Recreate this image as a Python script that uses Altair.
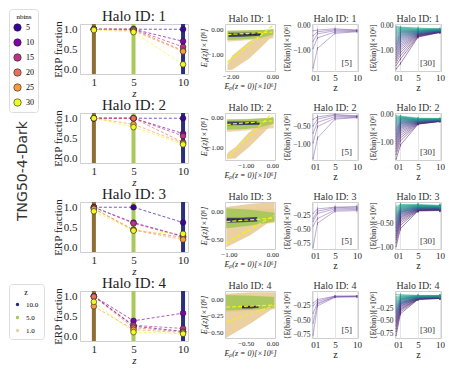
import altair as alt
import pandas as pd

FONT = "Liberation Serif"
SIM_NAME = "TNG50-4-Dark"

HALO_IDS = [1, 2, 3, 4]
Z_SNAPS = [1, 5, 10]
Z_ALL = [0, 1, 5, 10]
NBINS = [5, 10, 15, 20, 25, 30]
NBINS_COLORS = ["#3b049a", "#7e03a8", "#bb3488", "#e8705c", "#f99a3e", "#f0f921"]
Z_LEGEND_LABELS = ["10.0", "5.0", "1.0"]
Z_LEGEND_COLORS = ["#2b2d6e", "#a8c95a", "#ecd29b"]
Z_BAR_COLORS = ["#8f6d33", "#a9c95d", "#2b2f7e"]

# ERP fraction: rows = nbins 5..30, columns = z 1, 5, 10
erp_h1 = [[1.0, 1.0, 1.0], [1.0, 1.0, 0.70], [1.0, 1.0, 0.56],
          [1.0, 0.99, 0.47], [1.0, 0.96, 0.45], [0.98, 0.93, 0.13]]
erp_h2 = [[1.0, 1.0, 1.0], [1.0, 1.0, 0.62], [1.0, 1.0, 0.56],
          [1.0, 1.0, 0.40], [1.0, 0.85, 0.38], [1.0, 0.78, 0.35]]
erp_h3 = [[1.0, 1.0, 0.62], [1.0, 0.62, 0.28], [1.0, 0.60, 0.27],
          [0.97, 0.44, 0.25], [0.96, 0.43, 0.20], [0.90, 0.42, 0.34]]
erp_h4 = [[1.0, 0.26, 0.13], [1.0, 0.39, 0.58], [1.0, 0.28, 0.20],
          [0.99, 0.22, 0.12], [0.75, 0.17, 0.10], [0.86, 0.11, 0.07]]
ERP = [erp_h1, erp_h2, erp_h3, erp_h4]

# Ep(z) vs Ep(z=0) clouds, per halo
sc_xdom = [[-2.27, 0.13], [-1.77, 0.10], [-1.09, 0.06], [-0.89, 0.05]]
sc_ydom = [[-1.69, 0.23], [-1.44, 0.17], [-0.67, 0.17], [-0.58, 0.12]]
sc_xticks = [[-2.0, 0.0], [-1.0, 0.0], [-1.0, 0.0], [-0.5, 0.0]]
sc_yticks = [[0.0, -1.0], [0.0, -1.0], [0.0, -0.5], [0.0, -0.25, -0.5]]

tan_diag_x = [[-2.15, -1.92, -1.12, -0.48, 0.05], [-1.70, -1.62, -1.38, -0.88, -0.38, 0.02],
              [-1.06, -0.5, 0.05], [-0.87, -0.4, 0.05]]
tan_diag_lo = [[-1.66, -1.64, -1.19, -0.68, -0.22], [-1.42, -1.40, -1.39, -1.0, -0.56, -0.17],
               [-0.64, -0.42, -0.12], [-0.58, -0.36, -0.12]]
tan_diag_hi = [[-1.40, -1.06, -0.49, -0.17, 0.05], [-1.25, -1.15, -1.0, -0.5, -0.17, 0.06],
               [0.08, 0.14, 0.17], [0.08, 0.10, 0.10]]
tan_flat_x = [[-2.15, 0.05], [-1.70, 0.05], [-1.06, 0.05], [-0.87, 0.05]]
tan_flat_lo = [[-0.50, -0.35], [-0.48, -0.35], [-0.30, -0.20], [-0.20, -0.15]]
tan_flat_hi = [[-0.05, 0.0], [-0.05, 0.0], [0.05, 0.05], [0.05, 0.05]]
green_x = [[-2.15, -1.5, -1.0, -0.5, 0.05], [-1.70, -1.0, -0.5, 0.05],
           [-1.06, -0.5, 0.05], [-0.87, -0.4, 0.03]]
green_lo = [[-0.42, -0.40, -0.37, -0.32, -0.20], [-0.40, -0.38, -0.33, -0.20],
            [-0.30, -0.25, -0.18], [-0.17, -0.16, -0.13]]
green_hi = [[-0.05, -0.04, -0.03, -0.01, 0.02], [-0.05, -0.04, -0.02, 0.02],
            [0.06, 0.03, -0.02], [0.06, 0.05, 0.03]]
navy_x = [[-2.1, -1.5, -1.0, -0.55], [-1.68, -1.0, -0.48], [-1.05, -0.7, -0.35], [-0.57, -0.4, -0.26]]
navy_lo = [[-0.30, -0.29, -0.27, -0.25], [-0.25, -0.24, -0.23], [-0.20, -0.19, -0.18], [-0.14, -0.14, -0.13]]
navy_hi = [[-0.13, -0.13, -0.12, -0.12], [-0.12, -0.12, -0.11], [-0.11, -0.11, -0.10], [-0.10, -0.10, -0.10]]
fit_diag_x = [[-2.16, 0.0], [-1.62, 0.0], [-1.06, 0.04], [-0.85, 0.03]]
fit_diag_y = [[-1.32, 0.15], [-1.33, 0.17], [-0.56, -0.07], [-0.34, -0.10]]
fit_flat_x = [[-2.15, 0.0], [-1.70, 0.0], [-1.06, 0.0], [-0.87, 0.05]]
fit_flat_y = [[-0.20, -0.10], [-0.22, -0.10], [-0.18, -0.12], [-0.12, -0.09]]
fit_navy_x = [[-2.1, -0.55], [-1.68, -0.48], [-1.05, -0.35], [-0.57, -0.26]]
fit_navy_y = [[-0.22, -0.19], [-0.19, -0.17], [-0.15, -0.14], [-0.12, -0.115]]

# <E(bin)> for nbins = 5: rows = bins, columns = z 0, 1, 5, 10
e5_h1 = [[-1.68, -0.90, -0.30, -0.24], [-0.90, -0.48, -0.25, -0.22], [-0.62, -0.32, -0.20, -0.20],
         [-0.40, -0.24, -0.16, -0.18], [-0.20, -0.17, -0.12, -0.17]]
e5_h2 = [[-1.39, -0.82, -0.29, -0.25], [-0.95, -0.50, -0.26, -0.24], [-0.68, -0.38, -0.22, -0.22],
         [-0.48, -0.29, -0.18, -0.21], [-0.30, -0.23, -0.16, -0.20]]
e5_h3 = [[-0.81, -0.39, -0.18, -0.17], [-0.44, -0.31, -0.16, -0.15], [-0.36, -0.22, -0.14, -0.13],
         [-0.31, -0.18, -0.12, -0.11], [-0.22, -0.14, -0.11, -0.10]]
e5_h4 = [[-0.76, -0.25, -0.10, -0.09], [-0.55, -0.22, -0.09, -0.09], [-0.38, -0.20, -0.09, -0.08],
         [-0.25, -0.17, -0.08, -0.08], [-0.20, -0.14, -0.08, -0.08]]
E5 = [e5_h1, e5_h2, e5_h3, e5_h4]
err5 = [[0.02, 0.05, 0.05, 0.04], [0.02, 0.05, 0.04, 0.03], [0.01, 0.03, 0.03, 0.03], [0.01, 0.03, 0.02, 0.02]]
e5_ydom = [[-1.8, 0.07], [-1.43, -0.12], [-0.84, -0.02], [-0.81, 0.01]]
e5_yticks = [[0.0, -1.0], [-0.5, -1.0], [-0.25, -0.5, -0.75], [-0.25, -0.5, -0.75]]

# <E(bin)> for nbins = 30: lists for z = 0, 1, 5, 10 (bins from most to least bound)
e30_h1 = [
    [-1.72, -1.58, -1.47, -1.38, -1.30, -1.22, -1.14, -1.07, -1.00, -0.94, -0.88, -0.82, -0.76, -0.71, -0.66,
     -0.61, -0.56, -0.51, -0.47, -0.42, -0.38, -0.34, -0.30, -0.26, -0.22, -0.18, -0.14, -0.10, -0.06, -0.02],
    [-1.50, -1.32, -1.18, -1.06, -0.96, -0.87, -0.79, -0.72, -0.65, -0.59, -0.54, -0.49, -0.45, -0.41, -0.38,
     -0.35, -0.32, -0.29, -0.27, -0.25, -0.23, -0.21, -0.19, -0.17, -0.15, -0.13, -0.11, -0.09, -0.07, -0.05],
    [-0.45, -0.43, -0.41, -0.40, -0.38, -0.37, -0.36, -0.35, -0.34, -0.33, -0.32, -0.31, -0.30, -0.29, -0.28,
     -0.27, -0.26, -0.25, -0.24, -0.23, -0.22, -0.21, -0.20, -0.19, -0.18, -0.16, -0.15, -0.13, -0.11, -0.09],
    [-0.27, -0.26, -0.26, -0.25, -0.25, -0.24, -0.24, -0.23, -0.23, -0.22, -0.22, -0.21, -0.21, -0.20, -0.20,
     -0.19, -0.19, -0.18, -0.18, -0.17, -0.17, -0.16, -0.16, -0.15, -0.15, -0.14, -0.14, -0.13, -0.13, -0.12],
]
e30_h2 = [
    [-1.62, -1.45, -1.33, -1.23, -1.14, -1.06, -0.98, -0.91, -0.85, -0.79, -0.73, -0.68, -0.63, -0.58, -0.54,
     -0.50, -0.46, -0.42, -0.38, -0.35, -0.31, -0.28, -0.25, -0.22, -0.19, -0.16, -0.13, -0.10, -0.07, -0.03],
    [-1.10, -0.95, -0.84, -0.75, -0.67, -0.60, -0.54, -0.49, -0.45, -0.41, -0.38, -0.35, -0.32, -0.30, -0.28,
     -0.26, -0.24, -0.22, -0.20, -0.18, -0.17, -0.15, -0.14, -0.12, -0.11, -0.10, -0.08, -0.07, -0.06, -0.04],
    [-0.34, -0.33, -0.32, -0.31, -0.30, -0.30, -0.29, -0.28, -0.28, -0.27, -0.26, -0.26, -0.25, -0.24, -0.24,
     -0.23, -0.22, -0.22, -0.21, -0.20, -0.20, -0.19, -0.18, -0.18, -0.17, -0.16, -0.15, -0.14, -0.13, -0.12],
    [-0.24, -0.24, -0.23, -0.23, -0.22, -0.22, -0.22, -0.21, -0.21, -0.21, -0.20, -0.20, -0.20, -0.19, -0.19,
     -0.19, -0.18, -0.18, -0.18, -0.17, -0.17, -0.17, -0.16, -0.16, -0.16, -0.15, -0.15, -0.14, -0.14, -0.13],
]
e30_h3 = [
    [-0.98, -0.90, -0.84, -0.79, -0.75, -0.71, -0.67, -0.64, -0.61, -0.58, -0.55, -0.52, -0.50, -0.47, -0.45,
     -0.42, -0.40, -0.38, -0.36, -0.34, -0.32, -0.30, -0.28, -0.26, -0.24, -0.22, -0.20, -0.18, -0.16, -0.13],
    [-0.60, -0.53, -0.48, -0.44, -0.41, -0.38, -0.36, -0.34, -0.32, -0.30, -0.29, -0.27, -0.26, -0.25, -0.24,
     -0.23, -0.22, -0.21, -0.20, -0.19, -0.18, -0.17, -0.16, -0.15, -0.14, -0.13, -0.12, -0.11, -0.10, -0.09],
    [-0.23, -0.22, -0.22, -0.21, -0.21, -0.20, -0.20, -0.19, -0.19, -0.19, -0.18, -0.18, -0.17, -0.17, -0.17,
     -0.16, -0.16, -0.15, -0.15, -0.15, -0.14, -0.14, -0.13, -0.13, -0.12, -0.12, -0.11, -0.11, -0.10, -0.09],
    [-0.22, -0.21, -0.21, -0.20, -0.20, -0.20, -0.19, -0.19, -0.19, -0.18, -0.18, -0.18, -0.17, -0.17, -0.17,
     -0.16, -0.16, -0.16, -0.15, -0.15, -0.15, -0.14, -0.14, -0.14, -0.13, -0.13, -0.13, -0.12, -0.12, -0.11],
]
e30_h4 = [
    [-0.80, -0.72, -0.66, -0.61, -0.57, -0.53, -0.50, -0.47, -0.44, -0.41, -0.39, -0.36, -0.34, -0.32, -0.30,
     -0.28, -0.26, -0.24, -0.22, -0.20, -0.18, -0.16, -0.14, -0.12, -0.10, -0.08, -0.06, -0.04, -0.01, 0.03],
    [-0.36, -0.32, -0.29, -0.27, -0.25, -0.23, -0.21, -0.20, -0.18, -0.17, -0.16, -0.15, -0.14, -0.13, -0.12,
     -0.11, -0.10, -0.09, -0.08, -0.07, -0.06, -0.06, -0.05, -0.04, -0.03, -0.02, -0.01, 0.0, 0.01, 0.03],
    [-0.07, -0.07, -0.06, -0.06, -0.06, -0.05, -0.05, -0.05, -0.05, -0.04, -0.04, -0.04, -0.04, -0.03, -0.03,
     -0.03, -0.03, -0.02, -0.02, -0.02, -0.02, -0.01, -0.01, -0.01, -0.01, 0.0, 0.0, 0.0, 0.01, 0.01],
    [-0.05, -0.05, -0.05, -0.04, -0.04, -0.04, -0.04, -0.04, -0.03, -0.03, -0.03, -0.03, -0.03, -0.02, -0.02,
     -0.02, -0.02, -0.02, -0.01, -0.01, -0.01, -0.01, -0.01, 0.0, 0.0, 0.0, 0.0, 0.0, 0.01, 0.01],
]
E30 = [e30_h1, e30_h2, e30_h3, e30_h4]
err30 = [[0.02, 0.05, 0.06, 0.05], [0.02, 0.05, 0.05, 0.04], [0.01, 0.04, 0.04, 0.04], [0.01, 0.03, 0.03, 0.03]]
e30_ydom = [[-1.8, 0.07], [-1.65, 0.07], [-1.03, -0.04], [-0.85, 0.10]]
e30_yticks = [[0.0, -1.0], [0.0, -1.0], [-0.5, -1.0], [-0.25, -0.5, -0.75]]

W1, H1 = 108, 50
W2, W3, W4, H = 50, 46, 46, 47


def title_text(hid, w, size, dy, color):
    return alt.Chart(pd.DataFrame({"t": [f"Halo ID: {hid}"]})).mark_text(
        font=FONT, fontSize=size, color=color, align="center", baseline="alphabetic").encode(
        text="t:N", x=alt.value(w / 2), y=alt.value(dy))


def erp_panel(i):
    hid = HALO_IDS[i]
    rows = []
    for nb, vals in zip(NBINS, ERP[i]):
        for z, v in zip(Z_SNAPS, vals):
            rows.append({"nbins": nb, "z": z, "erp": v})
    df = pd.DataFrame(rows)
    x = alt.X("z:Q", scale=alt.Scale(domain=[-0.4, 10.5], nice=False, zero=False),
              axis=alt.Axis(values=Z_SNAPS, title="z", titleFontStyle="italic", titleFontSize=11,
                            labelFontSize=11, titleY=19, titleBaseline="middle", labelPadding=2,
                            labelFlush=False, grid=False))
    y = alt.Y("erp:Q", scale=alt.Scale(domain=[-0.11, 1.13], nice=False, zero=False),
              axis=alt.Axis(values=[0.0, 0.5, 1.0], format=".1f", title="ERP fraction", titleFontSize=11,
                            labelFontSize=11, titleX=-22, titleBaseline="middle", labelPadding=3, grid=False))
    bars = alt.Chart(pd.DataFrame({"z": Z_SNAPS})).mark_rule(strokeWidth=4).encode(
        x=x, color=alt.Color("z:O", scale=alt.Scale(domain=Z_SNAPS, range=Z_BAR_COLORS), legend=None))
    nb_scale = alt.Scale(domain=NBINS, range=NBINS_COLORS)
    lines = alt.Chart(df).mark_line(strokeDash=[3, 2], strokeWidth=0.8, opacity=0.85).encode(
        x=x, y=y, color=alt.Color("nbins:O", scale=nb_scale, legend=None))
    if i == 0:
        leg = alt.Legend(title="nbins", orient="none", legendX=-71, legendY=-15, titleFontSize=7,
                         titleFont=FONT, titleFontWeight="normal", labelFont=FONT, labelFontSize=8,
                         symbolSize=55, symbolStrokeColor="#222222", symbolStrokeWidth=0.6,
                         strokeColor="#dddddd", padding=4, cornerRadius=3, fillColor="white",
                         rowPadding=4, labelOffset=4, titleAnchor="middle", titlePadding=3)
    else:
        leg = None
    pts = alt.Chart(df).mark_circle(size=32, opacity=1, stroke="#222222", strokeWidth=0.6).encode(
        x=x, y=y, color=alt.Color("nbins:O", scale=nb_scale, legend=leg))
    layers = [bars, lines, pts, title_text(hid, W1, 15, -3, "#222222")]
    if i == 1:
        layers.append(alt.Chart(pd.DataFrame({"t": [SIM_NAME]})).mark_text(
            angle=270, font="DejaVu Sans", fontSize=14, color="#333333", align="center",
            baseline="middle").encode(text="t:N", x=alt.value(-57), y=alt.value(58)))
    if i == 3:
        zleg = alt.Legend(title="z", orient="none", legendX=-71, legendY=-7, titleFontSize=8,
                          titleFont=FONT, titleFontWeight="normal", labelFont=FONT, labelFontSize=7,
                          symbolSize=12, strokeColor="#dddddd", padding=5, cornerRadius=3,
                          fillColor="white", rowPadding=5, labelOffset=5, titleAnchor="middle",
                          titlePadding=4)
        layers.append(alt.Chart(pd.DataFrame({"zl": Z_LEGEND_LABELS})).mark_circle(opacity=0).encode(
            color=alt.Color("zl:N", scale=alt.Scale(domain=Z_LEGEND_LABELS, range=Z_LEGEND_COLORS),
                            legend=zleg)))
    return alt.layer(*layers).resolve_scale(color="independent").properties(width=W1, height=H1)


def scatter_panel(i):
    xsc = alt.Scale(domain=sc_xdom[i], nice=False, zero=False)
    ysc = alt.Scale(domain=sc_ydom[i], nice=False, zero=False)
    xax = alt.Axis(values=sc_xticks[i], format=".2f", title="Eₚ(z = 0)[×10⁶]", titleFontSize=8,
                   labelFontSize=7, titleY=15.5, titleBaseline="middle", labelPadding=1.5,
                   labelFlush=False, grid=False, titleFontStyle="italic")
    yax = alt.Axis(values=sc_yticks[i], format=".2f", title="Eₚ(z)[×10⁶]", titleFontSize=8,
                   labelFontSize=7, titleX=-21, titleBaseline="middle", labelPadding=2, grid=False,
                   titleFontStyle="italic")

    def band(xs, lo, hi, color, op):
        d = pd.DataFrame({"x": xs, "lo": lo, "hi": hi})
        return alt.Chart(d).mark_area(color=color, opacity=op, clip=True).encode(
            x=alt.X("x:Q", scale=xsc, axis=xax), y=alt.Y("lo:Q", scale=ysc, axis=yax), y2="hi:Q")

    def fit(xs, ys, color, width, dash):
        d = pd.DataFrame({"x": xs, "y": ys})
        return alt.Chart(d).mark_line(color=color, strokeWidth=width, strokeDash=dash, clip=True).encode(
            x=alt.X("x:Q", scale=xsc, axis=xax), y=alt.Y("y:Q", scale=ysc, axis=yax))

    layers = [
        band(tan_flat_x[i], tan_flat_lo[i], tan_flat_hi[i], "#e8c990", 0.75),
        band(tan_diag_x[i], tan_diag_lo[i], tan_diag_hi[i], "#e8c990", 0.85),
        band(green_x[i], green_lo[i], green_hi[i], "#a4c75a", 0.9),
        band(navy_x[i], navy_lo[i], navy_hi[i], "#2a2c6a", 0.85),
        fit(fit_navy_x[i], fit_navy_y[i], "#111111", 0.8, [3, 2]),
        fit(fit_diag_x[i], fit_diag_y[i], "#f2f20f", 1.2, [4, 2]),
        fit(fit_flat_x[i], fit_flat_y[i], "#f2f20f", 1.2, [4, 2]),
        title_text(HALO_IDS[i], W2, 10, -2, "#333333"),
    ]
    return alt.layer(*layers).properties(width=W2, height=H)


def energy_panel(i, nb):
    rows = []
    if nb == 5:
        for b, vals in enumerate(E5[i]):
            for k, z in enumerate(Z_ALL):
                rows.append({"bin": b, "z": z, "e": vals[k], "err": err5[i][k]})
        ydom, yticks, tx, w = e5_ydom[i], e5_yticks[i], -25, W3
    else:
        for k, z in enumerate(Z_ALL):
            for b, v in enumerate(E30[i][k]):
                rows.append({"bin": b, "z": z, "e": v, "err": err30[i][k]})
        ydom, yticks, tx, w = e30_ydom[i], e30_yticks[i], -22, W4
    df = pd.DataFrame(rows)
    df["lo"] = df["e"] - df["err"]
    df["hi"] = df["e"] + df["err"]
    x = alt.X("z:Q", scale=alt.Scale(domain=[-0.25, 10.25], nice=False, zero=False),
              axis=alt.Axis(values=Z_ALL, title="z", grid=True, gridColor="#e6e6e6", labelOverlap=False,
                            labelFlush=False, labelFontSize=9, titleFontSize=10, titleY=16,
                            titleBaseline="middle", labelPadding=2))
    yax = alt.Axis(values=yticks, format=".2f", title="⟨E(bin)⟩[×10⁶]", grid=False, labelFontSize=7.5,
                   titleFontSize=8, titleX=tx, titleBaseline="middle", labelPadding=2)
    ysc = alt.Scale(domain=ydom, nice=False, zero=False)
    if nb == 5:
        color = alt.value("#7b55a8")
        ecolor = alt.value("#5b3a8c")
    else:
        color = alt.Color("bin:O", scale=alt.Scale(scheme=alt.SchemeParams(name="viridis", extent=[0.0, 0.62])),
                          legend=None)
        ecolor = color
    lines = alt.Chart(df).mark_line(strokeWidth=0.7, opacity=0.7, clip=True).encode(
        x=x, y=alt.Y("e:Q", scale=ysc, axis=yax), color=color, detail="bin:O")
    errs = alt.Chart(df).mark_rule(strokeWidth=0.6, opacity=0.8, clip=True).encode(
        x=x, y=alt.Y("lo:Q", scale=ysc, axis=yax), y2="hi:Q", color=ecolor)
    label = alt.Chart(pd.DataFrame({"t": [f"[{nb}]"]})).mark_text(
        align="right", baseline="bottom", font=FONT, fontSize=9, color="#333333").encode(
        text="t:N", x=alt.value(w - 6), y=alt.value(H - 3))
    return alt.layer(lines, errs, label, title_text(HALO_IDS[i], w, 10, -2, "#333333")).properties(
        width=w, height=H)


panels = []
for i in range(4):
    panels += [erp_panel(i), scatter_panel(i), energy_panel(i, 5), energy_panel(i, 30)]

chart = alt.concat(*panels, columns=4, spacing={"row": 39, "column": 37}, bounds="flush",
                   align="each").resolve_scale(color="independent").properties(padding=0)
chart = chart.configure_view(stroke="#cfcfcf", strokeWidth=1).configure_axis(
    domain=False, ticks=False, labelFont=FONT, titleFont=FONT, labelColor="#222222",
    titleColor="#222222", titleFontWeight="normal")

chart.save("out.html", embed_options={"renderer": "svg", "actions": False})
